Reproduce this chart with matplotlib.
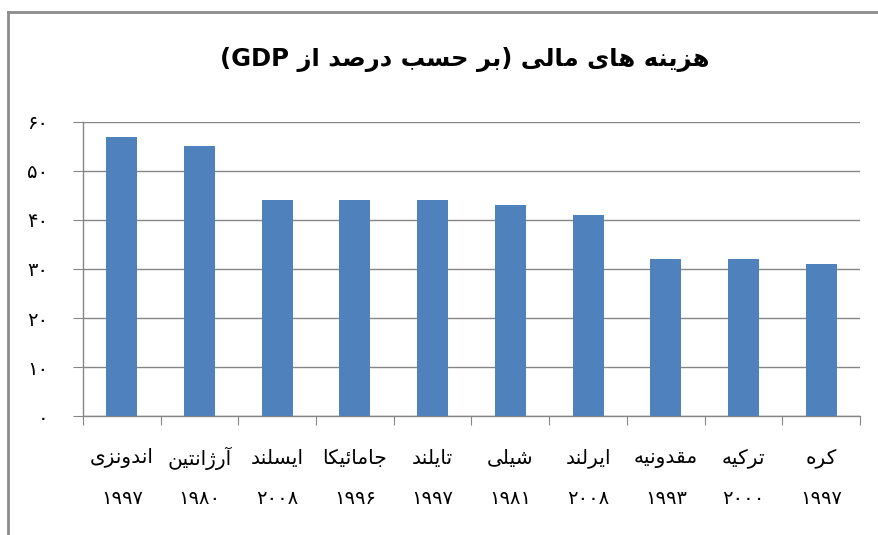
import matplotlib
matplotlib.use('Agg')
import matplotlib.pyplot as plt
from matplotlib.ticker import FuncFormatter

# Данные
countries = ['اندونزی', 'آرژانتین', 'ایسلند', 'جامائیکا', 'تایلند',
             'شیلی', 'ایرلند', 'مقدونیه', 'ترکیه', 'کره']
years = ['1997', '1980', '2008', '1996', '1997',
         '1981', '2008', '1993', '2000', '1997']
costs = [57, 55, 44, 44, 44, 43, 41, 32, 32, 31]
y_ticks = [0, 10, 20, 30, 40, 50, 60]

# Формы арабских букв: изолированная, конечная, начальная, срединная
FORMS = {
    'ا': (0xFE8D, 0xFE8E, None, None),
    'آ': (0xFE81, 0xFE82, None, None),
    'ب': (0xFE8F, 0xFE90, 0xFE91, 0xFE92),
    'پ': (0xFB56, 0xFB57, 0xFB58, 0xFB59),
    'ت': (0xFE95, 0xFE96, 0xFE97, 0xFE98),
    'ج': (0xFE9D, 0xFE9E, 0xFE9F, 0xFEA0),
    'ح': (0xFEA1, 0xFEA2, 0xFEA3, 0xFEA4),
    'د': (0xFEA9, 0xFEAA, None, None),
    'ر': (0xFEAD, 0xFEAE, None, None),
    'ز': (0xFEAF, 0xFEB0, None, None),
    'ژ': (0xFB8A, 0xFB8B, None, None),
    'س': (0xFEB1, 0xFEB2, 0xFEB3, 0xFEB4),
    'ش': (0xFEB5, 0xFEB6, 0xFEB7, 0xFEB8),
    'ص': (0xFEB9, 0xFEBA, 0xFEBB, 0xFEBC),
    'ق': (0xFED5, 0xFED6, 0xFED7, 0xFED8),
    'ک': (0xFB8E, 0xFB8F, 0xFB90, 0xFB91),
    'ل': (0xFEDD, 0xFEDE, 0xFEDF, 0xFEE0),
    'م': (0xFEE1, 0xFEE2, 0xFEE3, 0xFEE4),
    'ن': (0xFEE5, 0xFEE6, 0xFEE7, 0xFEE8),
    'ه': (0xFEE9, 0xFEEA, 0xFEEB, 0xFEEC),
    'و': (0xFEED, 0xFEEE, None, None),
    'ی': (0xFBFC, 0xFBFD, 0xFBFE, 0xFBFF),
    'ئ': (0xFE89, 0xFE8A, 0xFE8B, 0xFE8C),
}


def rtl(text):
    # Соединяем буквы и переворачиваем строку для отображения
    out = []
    for i, ch in enumerate(text):
        if ch not in FORMS:
            out.append(ch)
            continue
        prev = text[i - 1] if i > 0 else ''
        nxt = text[i + 1] if i + 1 < len(text) else ''
        join_prev = prev in FORMS and FORMS[prev][2] is not None
        join_next = FORMS[ch][2] is not None and nxt in FORMS
        iso, fin, ini, med = FORMS[ch]
        if join_prev and join_next:
            code = med
        elif join_prev:
            code = fin
        elif join_next:
            code = ini
        else:
            code = iso
        out.append(chr(code))
    s = ''.join(reversed(out))
    return s.translate(str.maketrans('()', ')('))


def fa_digits(s):
    return str(s).translate(str.maketrans('0123456789', '۰۱۲۳۴۵۶۷۸۹'))


plt.rcParams['font.family'] = ['DejaVu Sans']

fig = plt.figure(figsize=(8.79, 5.35), dpi=100)

# Рамка вокруг диаграммы
fig.add_artist(plt.Line2D([0.009, 0.009], [0, 0.978], color='#8c8c8c', lw=2))
fig.add_artist(plt.Line2D([0.009, 1.0], [0.978, 0.978], color='#8c8c8c', lw=2))

ax = fig.add_axes([0.0944, 0.2224, 0.8840, 0.5496])

x = range(len(countries))
ax.bar(x, costs, width=0.4, color='#4F81BD', zorder=3)

ax.set_xlim(-0.5, len(countries) - 0.5)
ax.set_ylim(0, 60)
ax.set_yticks(y_ticks)
ax.yaxis.set_major_formatter(FuncFormatter(lambda v, p: fa_digits(int(v))))
ax.grid(axis='y', color='#868686', linewidth=1, zorder=0)

# Деления между категориями
ax.set_xticks([i - 0.5 for i in range(len(countries) + 1)])
ax.set_xticklabels([])
ax.tick_params(axis='x', length=6.5, color='#868686', direction='out')
ax.tick_params(axis='y', length=7, color='#868686', direction='out',
               labelsize=14, pad=18)

for side in ['top', 'right']:
    ax.spines[side].set_visible(False)
for side in ['left', 'bottom']:
    ax.spines[side].set_color('#868686')
    ax.spines[side].set_linewidth(1)

# Подписи стран и годов
for i in x:
    ax.text(i, -8.6, rtl(countries[i]), ha='center', va='center', fontsize=14.5)
    ax.text(i, -16.8, fa_digits(years[i]), ha='center', va='center', fontsize=14)

fig.text(0.529, 0.888, '(GDP ' + rtl('هزینه های مالی (بر حسب درصد از'),
         ha='center', va='center', fontsize=17.5, fontweight='bold')

plt.savefig('out.png', dpi=100)
